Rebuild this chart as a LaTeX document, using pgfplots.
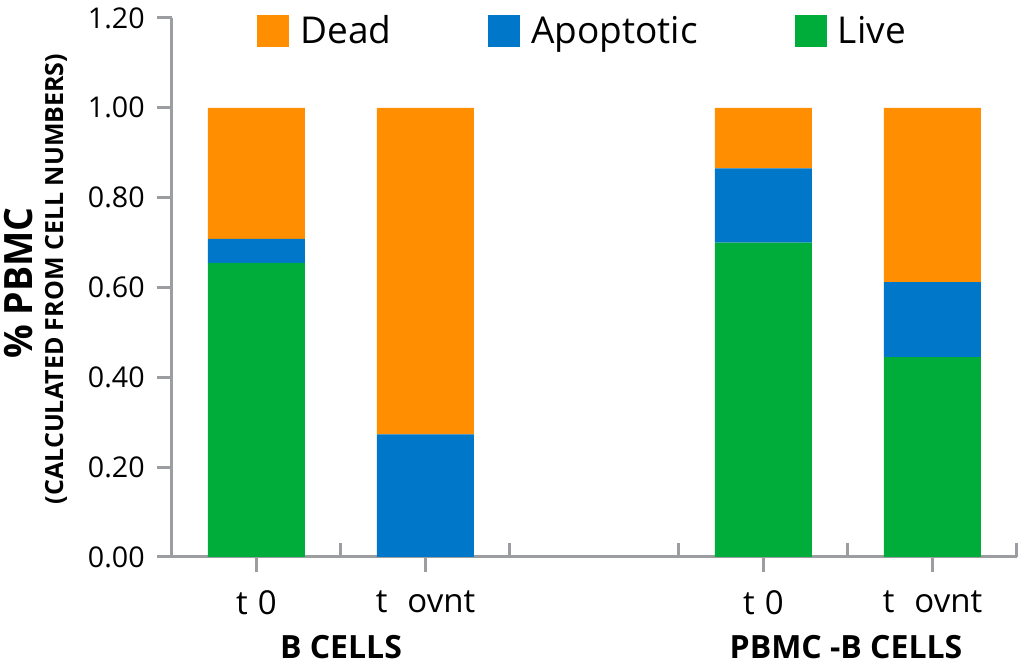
\documentclass[border=0pt]{standalone}
\usepackage{fontspec}
\setmainfont{Open Sans}
\newfontfamily\condfont{Open Sans}[FakeStretch=0.96]
\usepackage{pgfplots}
\pgfplotsset{compat=1.18}
\definecolor{cDead}{RGB}{255,142,0}
\definecolor{cApo}{RGB}{0,119,200}
\definecolor{cLive}{RGB}{0,172,58}
\definecolor{cAxis}{RGB}{155,157,160}
\begin{document}
\begin{tikzpicture}
\begin{axis}[
  at={(0,0)}, anchor=south west,
  scale only axis, width=422.5pt, height=269.5pt,
  xmin=-0.5, xmax=4.5, ymin=0, ymax=1.2,
  axis x line=bottom, axis y line=left,
  axis line style={-, cAxis, line width=1.5pt},
  every tick/.style={cAxis, line width=1.5pt},
  xtick={0,1,3,4},
  xticklabels={t\hspace{5pt}0, t\hspace{10pt}ovnt, t\hspace{5pt}0, t\hspace{10pt}ovnt},
  minor xtick={-0.5,0.5,1.5,2.5,3.5,4.5},
  tick align=outside,
  major tick length=7.5pt,
  minor tick length=-7pt,
  ytick={0,0.2,0.4,0.6,0.8,1.0,1.2},
  /pgf/number format/assume math mode=true,
  ticklabel style={font=\fontsize{14.3pt}{16pt}\selectfont, text=black},
  xticklabel style={font=\fontsize{16.5pt}{18pt}\selectfont, inner sep=0pt, yshift=-9pt},
  yticklabel style={/pgf/number format/fixed, /pgf/number format/fixed zerofill, /pgf/number format/precision=2, inner sep=0pt, xshift=-6pt},
  ybar stacked, bar width=48.5pt,
  reverse legend,
  legend columns=-1,
  legend style={at={(0.1006,0.976)}, anchor=west, draw=none, fill=none,
    inner sep=0pt, font=\fontsize{18.5pt}{20pt}\selectfont,
    /tikz/every even column/.append style={column sep=46.5pt}},
  legend image code/.code={\fill[#1,draw=none] (0pt,-8pt) rectangle (16pt,8pt);\path (19.5pt,0pt);},
  clip=false,
]
\addplot+[fill=cLive, draw=none] coordinates {(0,0.655) (1,0) (3,0.700) (4,0.445)};
\addlegendentry{Live}
\addplot+[fill=cApo, draw=none] coordinates {(0,0.053) (1,0.273) (3,0.165) (4,0.167)};
\addlegendentry{Apoptotic}
\addplot+[fill=cDead, draw=none] coordinates {(0,0.292) (1,0.727) (3,0.135) (4,0.388)};
\addlegendentry{Dead}
\end{axis}
\node[rotate=90, font=\condfont\bfseries\fontsize{19.5pt}{21pt}\selectfont, inner sep=0pt] at (-76.5pt,137pt) {\% PBMC};
\node[rotate=90, font=\bfseries\fontsize{12.5pt}{14pt}\selectfont, inner sep=0pt] at (-58pt,139pt) {(CALCULATED FROM CELL NUMBERS)};
\node[font=\bfseries\fontsize{16pt}{18pt}\selectfont, inner sep=0pt] at (84.5pt,-45pt) {B CELLS};
\node[font=\bfseries\fontsize{16pt}{18pt}\selectfont, inner sep=0pt] at (337pt,-45pt) {PBMC -B CELLS};
\pgfresetboundingbox
\path[use as bounding box] (-86pt,-53.5pt) rectangle (426pt,278.5pt);
\end{tikzpicture}
\end{document}
